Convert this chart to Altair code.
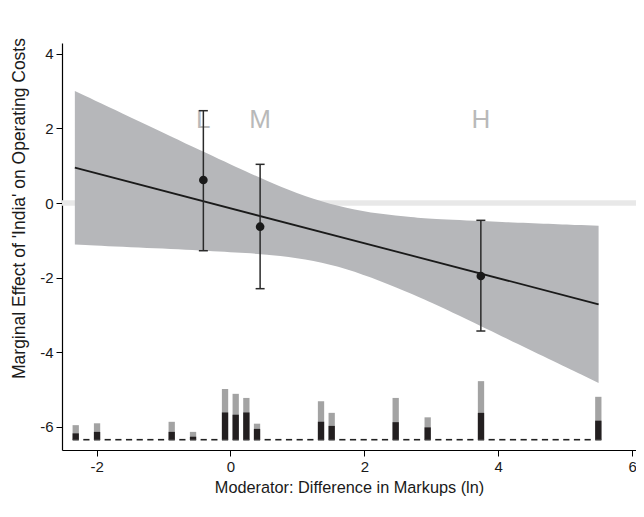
import altair as alt
import numpy as np
import pandas as pd

# ---- data ----
# confidence band (moderator value, upper, lower)
band_x = [-2.325, -1.369, -0.409, 0.256, 0.743, 1.241, 1.733, 2.220, 2.718, 3.062, 3.948, 5.500]
band_hi = [3.003, 2.193, 1.375, 0.823, 0.437, 0.099, -0.142, -0.295, -0.383, -0.437, -0.499, -0.609]
band_lo = [-1.110, -1.196, -1.273, -1.343, -1.413, -1.542, -1.761, -2.075, -2.442, -2.716, -3.480, -4.823]

# estimated marginal effect line
line_x = [-2.325, 5.500]
line_y = [0.946, -2.716]

# binned estimates L / M / H
pt_label = ["L", "M", "H"]
pt_x = [-0.405, 0.443, 3.741]
pt_y = [0.617, -0.635, -1.957]
pt_lo = [-1.279, -2.297, -3.432]
pt_hi = [2.475, 1.037, -0.464]
label_y = [2.22, 2.22, 2.22]

# histogram of moderator (50 bins), heights in y-axis units
hist_base = -6.346
hist_first, hist_last, hist_n = -2.312, 5.496, 50
hist_total = [0.39, 0, 0.44, 0, 0, 0, 0, 0, 0, 0.48,
              0, 0.21, 0, 0, 1.36, 1.23, 1.12, 0.43, 0, 0,
              0, 0, 0, 1.03, 0.72, 0, 0, 0, 0, 0,
              1.12, 0, 0, 0.60, 0, 0, 0, 0, 1.57, 0,
              0, 0, 0, 0, 0, 0, 0, 0, 0, 1.15]
hist_treated = [0.17, 0, 0.21, 0, 0, 0, 0, 0, 0, 0.21,
                0, 0.08, 0, 0, 0.73, 0.67, 0.73, 0.29, 0, 0,
                0, 0, 0, 0.48, 0.37, 0, 0, 0, 0, 0,
                0.47, 0, 0, 0.33, 0, 0, 0, 0, 0.72, 0,
                0, 0, 0, 0, 0, 0, 0, 0, 0, 0.51]

x_ticks = [-2, 0, 2, 4, 6]
y_ticks = [-6, -4, -2, 0, 2, 4]

# ---- tables ----
band_df = pd.DataFrame({"x": band_x, "hi": band_hi, "lo": band_lo})
line_df = pd.DataFrame({"x": line_x, "y": line_y})
pt_df = pd.DataFrame({"lab": pt_label, "x": pt_x, "y": pt_y, "lo": pt_lo,
                      "hi": pt_hi, "ly": label_y})
centers = np.linspace(hist_first, hist_last, hist_n)
hist_df = pd.DataFrame({
    "x": centers,
    "base": hist_base,
    "tot": [hist_base + v for v in hist_total],
    "trt": [hist_base + v for v in hist_treated],
})
hist_nz = hist_df[np.array(hist_total) > 0]
zero_df = pd.DataFrame({"y": [0]})

xs = alt.Scale(domain=[-2.517, 6.059], nice=False, zero=False)
ys = alt.Scale(domain=[-6.622, 4.29], nice=False, zero=False)

FONT = "Liberation Sans"
LABEL_EXPR = "'' + datum.value"

X = alt.X("x:Q", scale=xs, axis=alt.Axis(values=x_ticks, labelExpr=LABEL_EXPR,
                                         title="Moderator: Difference in Markups (ln)"))
Y_axis = alt.Axis(values=y_ticks, labelExpr=LABEL_EXPR, titleY=165,
                  title="Marginal Effect of 'India' on Operating Costs")

zero = alt.Chart(zero_df).mark_rule(color="#e8e8e8", strokeWidth=5.5).encode(
    y=alt.Y("y:Q", scale=ys, axis=Y_axis)
)

band = alt.Chart(band_df).mark_area(color="#b6b7ba", opacity=1, interpolate="basis").encode(
    x=X,
    y=alt.Y("hi:Q", scale=ys, axis=Y_axis),
    y2="lo:Q",
)

line = alt.Chart(line_df).mark_line(color="#1a1a1a", strokeWidth=1.8).encode(
    x=alt.X("x:Q", scale=xs), y=alt.Y("y:Q", scale=ys)
)

dashes = alt.Chart(hist_df).mark_rule(color="#222222", strokeWidth=1.6, xOffset=-3.1, x2Offset=3.1).encode(
    x=alt.X("x:Q", scale=xs), x2="x:Q", y=alt.Y("base:Q", scale=ys)
)

gray_bars = alt.Chart(hist_nz).mark_rect(color="#a3a3a3", xOffset=-3.15, x2Offset=3.15).encode(
    x=alt.X("x:Q", scale=xs), x2="x:Q", y=alt.Y("base:Q", scale=ys), y2="tot:Q"
)
black_bars = alt.Chart(hist_nz).mark_rect(color="#231f20", xOffset=-3.15, x2Offset=3.15).encode(
    x=alt.X("x:Q", scale=xs), x2="x:Q", y=alt.Y("base:Q", scale=ys), y2="trt:Q"
)

labels = alt.Chart(pt_df).mark_text(font=FONT, fontSize=26, color="#b9b9b9",
                                    baseline="middle", align="center").encode(
    x=alt.X("x:Q", scale=xs), y=alt.Y("ly:Q", scale=ys), text="lab:N"
)

ebar = alt.Chart(pt_df).mark_rule(color="#2a2a2a", strokeWidth=1.5).encode(
    x=alt.X("x:Q", scale=xs), y=alt.Y("lo:Q", scale=ys), y2="hi:Q"
)
cap_hi = alt.Chart(pt_df).mark_rule(color="#2a2a2a", strokeWidth=1.5, xOffset=-4.5, x2Offset=4.5).encode(
    x=alt.X("x:Q", scale=xs), x2="x:Q", y=alt.Y("hi:Q", scale=ys)
)
cap_lo = alt.Chart(pt_df).mark_rule(color="#2a2a2a", strokeWidth=1.5, xOffset=-4.5, x2Offset=4.5).encode(
    x=alt.X("x:Q", scale=xs), x2="x:Q", y=alt.Y("lo:Q", scale=ys)
)
points = alt.Chart(pt_df).mark_circle(color="#1a1a1a", opacity=1, size=75).encode(
    x=alt.X("x:Q", scale=xs), y=alt.Y("y:Q", scale=ys)
)

chart = alt.layer(
    zero, band, line, dashes, gray_bars, black_bars, labels, ebar, cap_hi, cap_lo, points
).properties(
    width=574, height=407,
    autosize=alt.AutoSizeParams(type="none"),
    padding={"left": 54, "top": 35, "right": 0, "bottom": 59},
).configure_view(stroke=None).configure_axis(
    grid=False, domainColor="#000000", domainWidth=1.2, tickColor="#000000",
    tickSize=6, labelFont=FONT, labelFontSize=15, labelColor="#1a1a1a",
    titleFont=FONT, titleFontWeight="normal", titleColor="#1a1a1a",
    labelPadding=3,
).configure_axisY(labelAngle=0, titlePadding=11, titleFontSize=17.5).configure_axisX(
    titlePadding=5, titleFontSize=16.3)

chart.save("out.html", embed_options={"renderer": "svg", "actions": False})
